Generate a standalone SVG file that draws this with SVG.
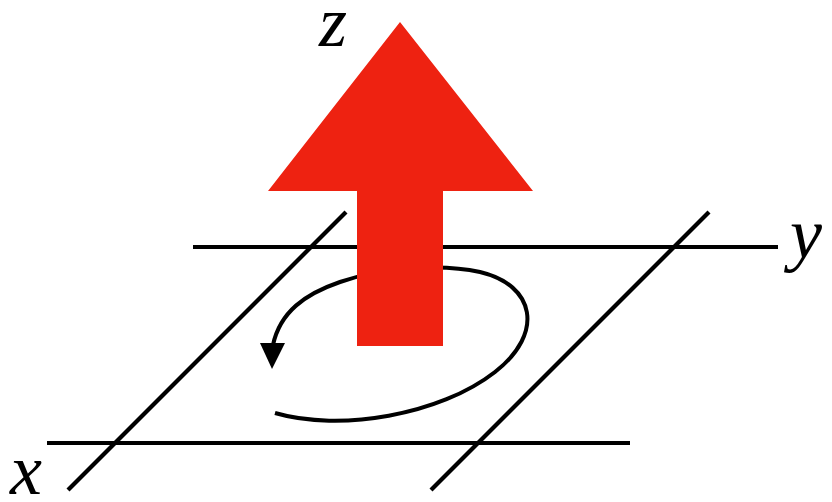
<svg xmlns="http://www.w3.org/2000/svg" width="832" height="502" viewBox="0 0 832 502">
<defs>
<style>
.ax{stroke:#000;stroke-width:4.2;fill:none}
.lbl{font-family:"Liberation Serif","Times New Roman",serif;font-style:italic;font-size:72px;fill:#000}
</style>
</defs>
<rect width="832" height="502" fill="#fff"/>
<g id="axes">
<line class="ax" x1="193" y1="247" x2="778" y2="247"/>
<line class="ax" x1="47" y1="443" x2="630" y2="443"/>
<line class="ax" x1="346" y1="212" x2="68" y2="490"/>
<line class="ax" x1="709" y1="212" x2="431" y2="490"/>
</g>
<g id="rotation">
<path class="ax" style="stroke-width:4" d="M275 413 C340 432 440 415 495 372 C545 333 535 285 480 272 C440 263 380 268 340 282 C305 294 280 312 273 345"/>
<polygon points="260,343 285,343 272,369" fill="#000"/>
</g>
<g id="z-arrow">
<polygon points="400,22 533,191 443,191 443,346 357,346 357,191 268,191" fill="#EE2211"/>
</g>
<g id="labels">
<text class="lbl" x="319" y="46">z</text>
<text class="lbl" x="790" y="258">y</text>
<text class="lbl" x="10" y="494">x</text>
</g>
</svg>
